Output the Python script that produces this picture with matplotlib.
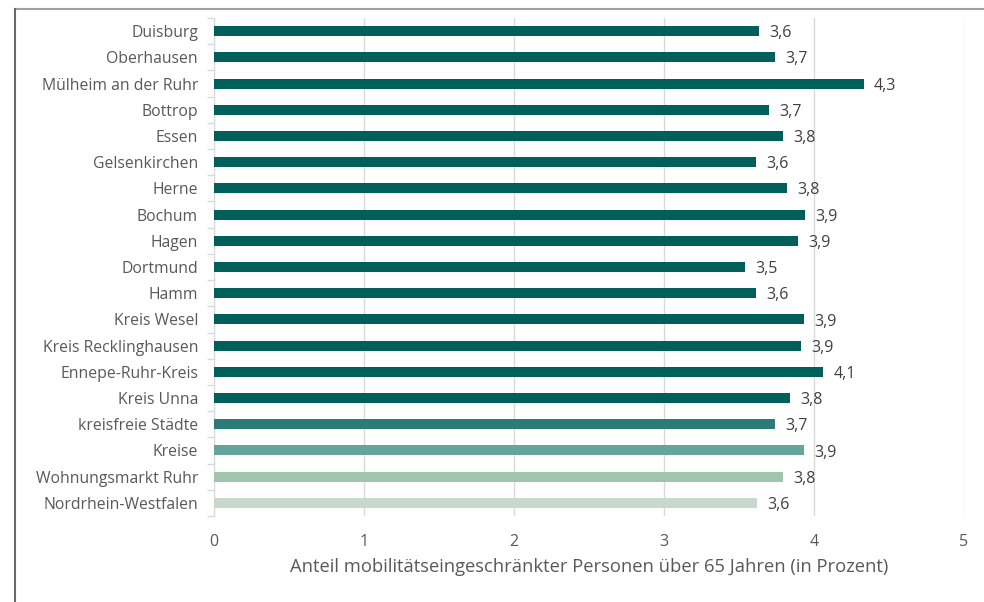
import numpy as np
import matplotlib.pyplot as plt
from matplotlib.lines import Line2D

regions = ["Duisburg", "Oberhausen", "Mülheim an der Ruhr", "Bottrop", "Essen",
           "Gelsenkirchen", "Herne", "Bochum", "Hagen", "Dortmund", "Hamm",
           "Kreis Wesel", "Kreis Recklinghausen", "Ennepe-Ruhr-Kreis",
           "Kreis Unna", "kreisfreie Städte", "Kreise", "Wohnungsmarkt Ruhr",
           "Nordrhein-Westfalen"]
shares = [3.63, 3.74, 4.33, 3.70, 3.79, 3.61, 3.82, 3.94, 3.89, 3.54, 3.61,
          3.93, 3.91, 4.06, 3.84, 3.74, 3.93, 3.79, 3.62]
colors = ["#005f5a"] * 15 + ["#2e7a78", "#66a39a", "#a1c4af", "#c8d8cc"]
xticks = [0, 1, 2, 3, 4, 5]

plt.rcParams['font.family'] = ['Open Sans', 'DejaVu Sans']

fig = plt.figure(figsize=(9.84, 6.02), dpi=100)
ax = fig.add_axes([214 / 984, 1 - 516 / 602, 750 / 984, 498 / 602])

y = np.arange(len(regions))
ax.barh(y, shares, height=0.38, color=colors, zorder=3)
for yi, v in zip(y, shares):
    ax.text(v + 0.07, yi + 0.08, f"{v:.1f}".replace(".", ","), va="center",
            ha="left", fontsize=11.5, color="#404040", zorder=4)

ax.set_ylim(len(regions) - 0.5, -0.5)
ax.set_xlim(0, 5)
ax.set_xticks(xticks)
ax.set_xticklabels([str(t) for t in xticks], fontsize=11.5, color="#595959")
ax.tick_params(axis="x", length=0, pad=13)
ax.grid(axis="x", color="#d9d9d9", linewidth=1, zorder=0)

# category labels centred on the bars, ticks on the boundaries
ax.set_yticks(y)
ax.set_yticklabels(regions, fontsize=11.3, color="#595959")
ax.tick_params(axis="y", length=0, pad=11.5)
ax.set_yticks(np.arange(len(regions) + 1) - 0.5, minor=True)
ax.tick_params(axis="y", which="minor", length=5, color="#d9d9d9", width=1)

for pos in ["top", "right", "bottom"]:
    ax.spines[pos].set_visible(False)
ax.spines["left"].set_color("#d9d9d9")

ax.set_xlabel("Anteil mobilitätseingeschränkter Personen über 65 Jahren (in Prozent)",
              fontsize=13.2, color="#595959", labelpad=6)

# outer frame lines along the top and left edge
fig.add_artist(Line2D([15 / 984, 1], [1 - 8.5 / 602, 1 - 8.5 / 602],
                      transform=fig.transFigure, color="#a0a0a0", linewidth=1.5))
fig.add_artist(Line2D([15.5 / 984, 15.5 / 984], [0, 1 - 8.5 / 602],
                      transform=fig.transFigure, color="#6a6a6a", linewidth=1.5))

fig.savefig("out.png", dpi=100)
